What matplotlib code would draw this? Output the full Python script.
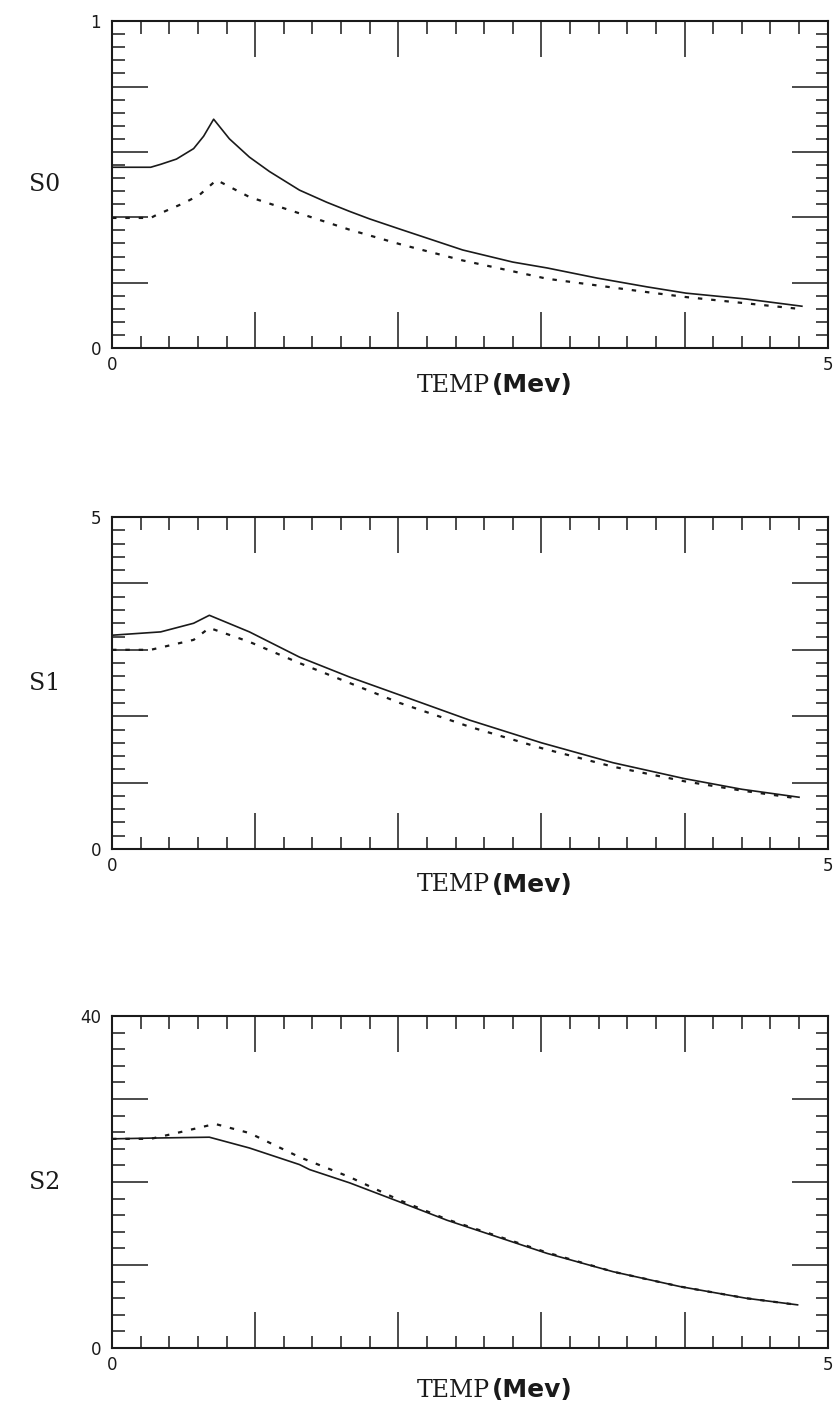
import matplotlib.pyplot as plt
from matplotlib.ticker import MultipleLocator, FixedFormatter, FixedLocator
import numpy as np

# S0 panel
s0_x_solid = [0, 0.27, 0.34, 0.45, 0.57, 0.64, 0.71, 0.82, 0.96, 1.1, 1.31, 1.5, 1.66, 1.8, 2.01, 2.45, 2.80, 3.04, 3.39, 3.74, 4.01, 4.43, 4.82]
s0_solid = [0.553, 0.553, 0.562, 0.578, 0.610, 0.648, 0.70, 0.640, 0.584, 0.540, 0.483, 0.446, 0.418, 0.395, 0.364, 0.30, 0.263, 0.245, 0.214, 0.187, 0.168, 0.15, 0.128]
s0_x_dash = [0, 0.27, 0.31, 0.5, 0.61, 0.73, 0.96, 1.31, 1.66, 2.01, 2.45, 3.04, 3.74, 4.01, 4.82]
s0_dash = [0.398, 0.398, 0.407, 0.443, 0.468, 0.514, 0.462, 0.412, 0.362, 0.318, 0.268, 0.212, 0.171, 0.156, 0.119]

# S1 panel
s1_x_solid = [0, 0.34, 0.57, 0.68, 0.96, 1.31, 1.66, 2.01, 2.5, 3.0, 3.5, 4.0, 4.4, 4.8]
s1_solid = [3.22, 3.27, 3.40, 3.52, 3.27, 2.89, 2.59, 2.32, 1.94, 1.60, 1.30, 1.06, 0.90, 0.78]
s1_x_dash = [0, 0.27, 0.57, 0.68, 0.96, 1.31, 1.66, 2.01, 2.5, 3.0, 3.5, 4.0, 4.4, 4.8]
s1_dash = [3.0, 3.0, 3.15, 3.33, 3.12, 2.80, 2.50, 2.20, 1.84, 1.52, 1.24, 1.02, 0.88, 0.76]

# S2 panel
s2_x_solid = [0, 0.3, 0.68, 0.96, 1.31, 1.38, 1.66, 2.01, 2.34, 3.04, 3.5, 3.97, 4.43, 4.79]
s2_solid = [25.2, 25.3, 25.4, 24.1, 22.1, 21.5, 19.9, 17.6, 15.4, 11.4, 9.2, 7.4, 6.0, 5.2]
s2_x_dash = [0, 0.27, 0.45, 0.72, 0.96, 1.31, 1.66, 2.01, 2.34, 3.04, 3.5, 3.97, 4.43, 4.79]
s2_dash = [25.2, 25.2, 25.9, 27.0, 25.9, 23.0, 20.6, 17.8, 15.5, 11.5, 9.2, 7.4, 6.0, 5.2]

names = ["S0", "S1", "S2"]
ymax = [1, 5, 40]
ymajor = [0.2, 1, 10]
yminor = [0.04, 0.2, 2]
ytop_label = ["1", "5", "40"]

panels = [
    (s0_x_solid, s0_solid, s0_x_dash, s0_dash),
    (s1_x_solid, s1_solid, s1_x_dash, s1_dash),
    (s2_x_solid, s2_solid, s2_x_dash, s2_dash),
]

# axes boxes in figure fractions [left, bottom, width, height]
boxes = [
    [0.134, 0.7528, 0.856, 0.2322],
    [0.134, 0.397, 0.856, 0.2358],
    [0.134, 0.0426, 0.856, 0.2358],
]
xlab_y = [-0.113, -0.108, -0.127]

fig = plt.figure(figsize=(8.36, 14.08), dpi=100)
ink = '#1a1a1a'

for i in range(3):
    ax = fig.add_axes(boxes[i])
    xs, ys, xd, yd = panels[i]
    ax.plot(xs, ys, color=ink, lw=1.2)
    ax.plot(xd, yd, color=ink, lw=1.6, linestyle=(0, (2, 4)))

    ax.set_xlim(0, 5)
    ax.set_ylim(0, ymax[i])

    ax.xaxis.set_minor_locator(MultipleLocator(0.2))
    ax.yaxis.set_minor_locator(MultipleLocator(yminor[i]))

    xt = np.arange(0, 6)
    ax.xaxis.set_major_locator(FixedLocator(xt))
    ax.xaxis.set_major_formatter(FixedFormatter(["0", "", "", "", "", "5"]))
    nmaj = int(round(ymax[i] / ymajor[i]))
    yt = np.arange(0, nmaj + 1) * ymajor[i]
    ylabels = [""] * len(yt)
    ylabels[0] = "0"
    ylabels[-1] = ytop_label[i]
    ax.yaxis.set_major_locator(FixedLocator(yt))
    ax.yaxis.set_major_formatter(FixedFormatter(ylabels))

    ax.tick_params(which='both', direction='in', top=True, right=True, color=ink, width=1.1)
    ax.tick_params(which='major', length=26, labelsize=12, labelcolor=ink)
    ax.tick_params(axis='y', which='major', pad=8)
    ax.tick_params(axis='x', which='major', pad=6)
    ax.tick_params(which='minor', length=9)
    for sp in ax.spines.values():
        sp.set_linewidth(1.5)
        sp.set_color(ink)

    ax.set_ylabel(names[i], rotation=0, family='DejaVu Serif', fontsize=17, color=ink, va='center')
    ax.yaxis.set_label_coords(-0.094, 0.5)

    ax.text(0.528, xlab_y[i], "TEMP", transform=ax.transAxes, ha='right', va='center',
            family='DejaVu Serif', fontsize=17, color=ink)
    ax.text(0.531, xlab_y[i], "(Mev)", transform=ax.transAxes, ha='left', va='center',
            family='DejaVu Sans', fontweight='bold', fontsize=18, color=ink)

fig.savefig("out.png", dpi=100)
